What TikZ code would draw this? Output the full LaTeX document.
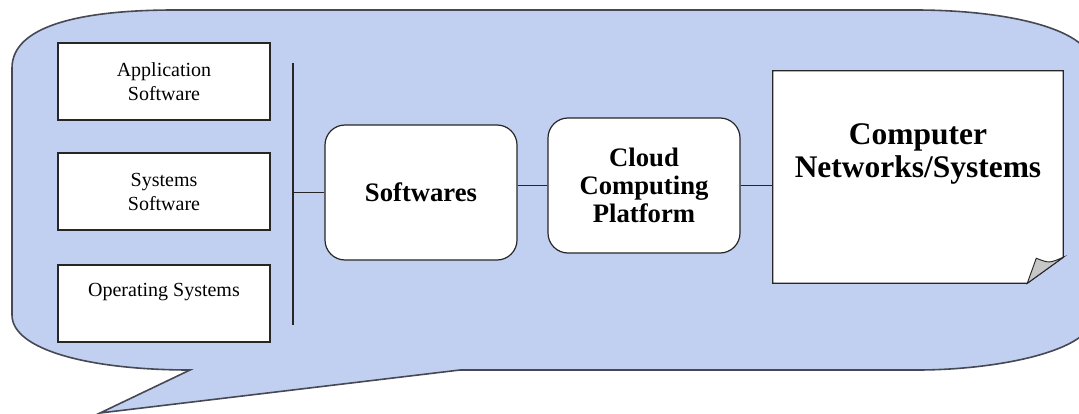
\documentclass[tikz,border=0pt]{standalone}
\usepackage{fontspec}
\setmainfont{Liberation Serif}
\usetikzlibrary{backgrounds}
\definecolor{bubblefill}{RGB}{193,207,240}
\definecolor{bubbleline}{RGB}{70,72,84}
\tikzset{
  layerbox/.style={shape=rectangle,draw=black!85,line width=0.9pt,fill=white,
    minimum width=159pt,minimum height=57.75pt,inner sep=2pt,align=center,
    font=\fontsize{15}{18}\selectfont},
  roundbox/.style={shape=rectangle,rounded corners=15pt,draw=black!85,line width=0.9pt,
    fill=white,minimum width=144pt,minimum height=101.25pt,align=center,
    font=\fontsize{20}{21}\selectfont\bfseries},
  notebox/.style={shape=rectangle,minimum width=217.5pt,minimum height=159pt,
    align=center,font=\fontsize{23.6}{24.75}\selectfont\bfseries},
  wire/.style={draw=black!85,line width=0.9pt}
}
\begin{document}
\begin{tikzpicture}[x=0.75pt,y=-0.75pt]
\useasboundingbox (0,0) rectangle (1079,414);
\node(app)   at (164,81.5)[layerbox]                 {Application\\Software};
\node(sys)   at (164,191.5)[layerbox]                {Systems\\Software};
\node(os)    at (164,303.5)[layerbox,text depth=21pt] {Operating Systems};
\node(soft)  at (421,192.5)[roundbox]                {Softwares};
\node(cloud) at (644,185.5)[roundbox]                {Cloud\\Computing\\Platform};
\node(net)   at (918,177)[notebox,text depth=40pt]   {Computer\\Networks/Systems};
\coordinate(bustop) at (293,63);
\coordinate(busbot) at (293,325);

\path [wire]
  (bustop)     edge  (busbot)
  (soft.west)  edge  (soft.west -| bustop)
  (cloud.west) edge  (cloud.west -| soft.east)
  (cloud.east) edge  (cloud.east -| net.west);

% callout and folded page behind the nodes
\begin{scope}[on background layer]
\path [draw=bubbleline,line width=1.2pt,fill=bubblefill]
  (12,68) .. controls (12,26) and (80,10) .. (175,10)
  -- (915,10) .. controls (1010,10) and (1092,30) .. (1092,65)
  -- (1092,318) .. controls (1092,350) and (1000,370) .. (917,370)
  -- (460,370) -- (100,413) -- (190,370)
  .. controls (90,370) and (12,350) .. (12,315) -- cycle;
\path [draw=black!85,line width=0.9pt,fill=white]
  (net.north west) -- (net.north east) -- ([yshift=19.5pt]net.south east)
  -- ([xshift=-27pt]net.south east) -- (net.south west) -- cycle;
\path [draw=black!85,line width=0.7pt,fill=black!22]
  ([xshift=-27pt]net.south east) -- ([xshift=-20.25pt,yshift=18.75pt]net.south east)
  .. controls ([xshift=-10.5pt,yshift=15pt]net.south east) .. ([yshift=19.5pt]net.south east)
  -- cycle;
\end{scope}
\end{tikzpicture}
\end{document}
